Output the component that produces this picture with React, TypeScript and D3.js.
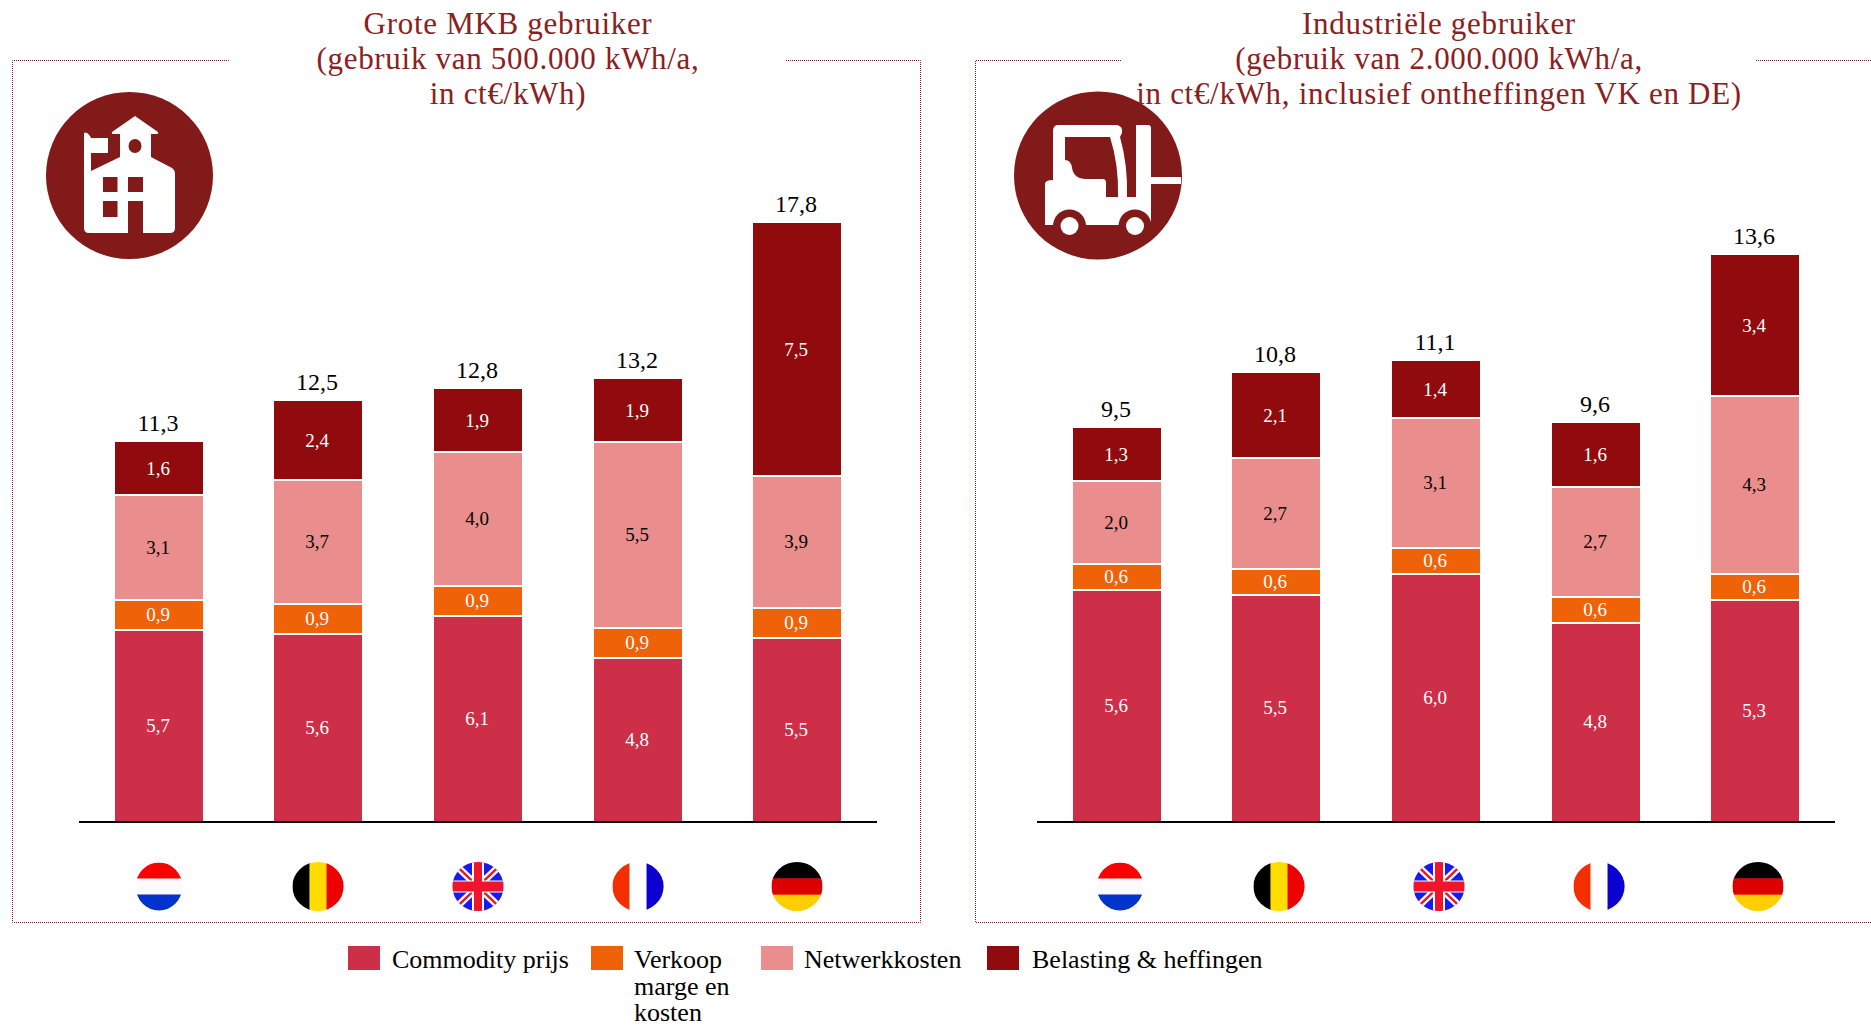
import React from "react";
import * as d3 from "d3";

const countries = ["NL", "BE", "UK", "FR", "DE"];
const seriesKeys = ["commodity", "verkoop", "netwerk", "belasting"];
const seriesNames = ["Commodity prijs", "Verkoop|marge en|kosten", "Netwerkkosten", "Belasting & heffingen"];
const colors = ["#CC2F47", "#F06208", "#EA8D8D", "#900A0E"];
const labelColors = ["#fff", "#fff", "#000", "#fff"];

// Grote MKB gebruiker, segment heights (labels round to 1 decimal)
const mkbCommodity = [5.68, 5.57, 6.1, 4.84, 5.46];
const mkbVerkoop = [0.89, 0.89, 0.89, 0.89, 0.89];
const mkbNetwerk = [3.14, 3.69, 3.99, 5.54, 3.93];
const mkbBelasting = [1.58, 2.36, 1.88, 1.88, 7.53];
const mkbTotals = [11.3, 12.5, 12.8, 13.2, 17.8];

// Industriele gebruiker
const indCommodity = [5.57, 5.45, 5.95, 4.76, 5.33];
const indVerkoop = [0.63, 0.63, 0.63, 0.63, 0.63];
const indNetwerk = [2.0, 2.66, 3.13, 2.66, 4.29];
const indBelasting = [1.26, 2.06, 1.37, 1.55, 3.4];
const indTotals = [9.5, 10.8, 11.1, 9.6, 13.6];

const mkbTitle = ["Grote MKB gebruiker", "(gebruik van 500.000 kWh/a,", "in ct€/kWh)"];
const indTitle = ["Industriële gebruiker", "(gebruik van 2.000.000 kWh/a,", "in ct€/kWh, inclusief ontheffingen VK en DE)"];

const FONT = "'Liberation Serif', serif";
const DARK = "#821A19";
const baseY = 821;
const comma = (v: number) => v.toFixed(1).replace(".", ",");

const toRows = (a: number[], b: number[], c: number[], d: number[]) =>
  countries.map((k, i) => ({ country: k, commodity: a[i], verkoop: b[i], netwerk: c[i], belasting: d[i] }));

const Flag = ({ code, cx, cy }: any) => {
  const id = `flag-${code}-${Math.round(cx)}`;
  const rx = code === "NL" ? 23.3 : 25.6;
  const ry = code === "NL" ? 24 : 24.5;
  const x0 = cx - rx, y0 = cy - ry, w = 2 * rx, h = 2 * ry;
  let body: any = null;
  if (code === "NL" || code === "DE") {
    const c = code === "NL" ? ["#FF0000", "#FDF9FC", "#0032CC"] : ["#000000", "#DD0000", "#FFCE00"];
    body = c.map((f, i) => <rect key={f} x={x0} y={y0 + (i * h) / 3} width={w} height={h / 3 + 0.5} fill={f} />);
  } else if (code === "BE" || code === "FR") {
    const c = code === "BE" ? ["#000000", "#FFDD00", "#EE0000"] : ["#F52E00", "#FFFFFF", "#0B00D1"];
    body = c.map((f, i) => <rect key={f} x={x0 + (i * w) / 3} y={y0} width={w / 3 + 0.5} height={h} fill={f} />);
  } else {
    const diag = `M${x0},${y0}L${x0 + w},${y0 + h}M${x0 + w},${y0}L${x0},${y0 + h}`;
    body = (
      <g>
        <rect x={x0} y={y0} width={w} height={h} fill="#1A1AF0" />
        <path d={diag} stroke="#fff" strokeWidth={7} />
        <path d={diag} stroke="#F0142D" strokeWidth={2.5} />
        <path d={`M${cx},${y0}V${y0 + h}M${x0},${cy}H${x0 + w}`} stroke="#fff" strokeWidth={12} />
        <path d={`M${cx},${y0}V${y0 + h}`} stroke="#F0142D" strokeWidth={8} />
        <path d={`M${x0},${cy}H${x0 + w}`} stroke="#F0142D" strokeWidth={10} />
      </g>
    );
  }
  return (
    <g>
      <clipPath id={id}><ellipse cx={cx} cy={cy} rx={rx} ry={ry} /></clipPath>
      <g clipPath={`url(#${id})`}>{body}</g>
    </g>
  );
};

const HouseIcon = () => (
  <g>
    <circle cx={129.5} cy={175.5} r={83.5} fill={DARK} />
    <path
      fill="#fff"
      d="M135,116 L158,132 Q159,134 156,134 L151,134 L151,157 L172,168 Q175,170 175,174 L175,228 Q175,233 170,233 L143,233 L143,201 L128,201 L128,233 L89,233 Q84,233 84,228 L84,133 Q87,131 90,136 L91,138 L108,138 L108,153 L91,153 L91,171 L120,157 L120,134 L114,134 Q111,134 112,132 Z"
    />
    <ellipse cx={135} cy={146} rx={6.5} ry={7} fill={DARK} />
    <rect x={103} y={177} width={14.5} height={15} fill={DARK} />
    <rect x={128} y={177} width={15} height={15} fill={DARK} />
    <rect x={103} y={201} width={14.5} height={16} fill={DARK} />
  </g>
);

const ForkliftIcon = () => (
  <g>
    <circle cx={1098} cy={175.5} r={84} fill={DARK} />
    <path
      fill="#fff"
      d="M1057,125 L1117,125 Q1123,126 1122,133 L1120,137 Q1128,165 1127,197 L1118,197 Q1119,165 1110,137 L1065,137 L1065,160 Q1071,160 1072,168 Q1074,179 1086,179 L1103,179 Q1106,179 1106,183 L1106,197 L1136,197 L1136,125 L1148,125 Q1151,125 1151,128 L1151,177 L1181,177 L1181,184 L1151,184 L1151,225 L1045,225 L1045,184 Q1045,180 1053,180 L1053,131 Q1053,126 1057,125 Z"
    />
    <circle cx={1069.5} cy={226} r={16.5} fill={DARK} />
    <circle cx={1135} cy={226} r={16.5} fill={DARK} />
    <ellipse cx={1069.5} cy={226} rx={9} ry={9} fill="#fff" />
    <ellipse cx={1135} cy={226} rx={9} ry={9} fill="#fff" />
  </g>
);

const Panel = ({ rows, totals, left, right, unit, flagOffset }: any) => {
  const x = d3.scaleBand().domain(countries).range([left, right]).paddingInner(0.449).paddingOuter(0.225);
  const y = d3.scaleLinear().domain([0, 20]).range([baseY, baseY - unit * 20]);
  const stacked = d3.stack<any>().keys(seriesKeys)(rows);
  const center = (c: string) => Math.round(x(c) as number) + 44;
  return (
    <g>
      {stacked.map((s, si) => (
        <g key={s.key}>
          {s.map((d: any, i: number) => {
            const top = Math.round(y(d[1]));
            const bottom = Math.round(y(d[0]));
            const bx = Math.round(x(countries[i]) as number);
            const y0 = top + (si === 3 ? 0 : 1);
            const y1 = bottom - (si === 0 ? 0 : 1);
            return (
              <g key={countries[i]}>
                <rect x={bx} y={y0} width={88} height={y1 - y0} fill={colors[si]} />
                <text x={center(countries[i]) - 1} y={(top + bottom) / 2 + 6} textAnchor="middle" fontSize={19} fill={labelColors[si]}>
                  {comma(rows[i][s.key])}
                </text>
              </g>
            );
          })}
        </g>
      ))}
      {countries.map((c, i) => {
        const top = Math.round(y(stacked[3][i][1]));
        return (
          <g key={c}>
            <text x={center(c) - 1} y={top - 11} textAnchor="middle" fontSize={24} fill="#000">
              {comma(totals[i])}
            </text>
            <Flag code={c} cx={center(c) + flagOffset} cy={886.5} />
          </g>
        );
      })}
      <line x1={left} x2={right} y1={baseY + 1} y2={baseY + 1} stroke="#000" strokeWidth={2} />
    </g>
  );
};

const Title = ({ lines, cx }: any) => (
  <text textAnchor="middle" fontSize={31} letterSpacing={0.7} fill="#8B2020">
    {lines.map((l: string, i: number) => (
      <tspan key={l} x={cx} y={34 + i * 35}>{l}</tspan>
    ))}
  </text>
);

const frame = { fill: "none", stroke: "#8B1A1A", strokeWidth: 1, strokeDasharray: "1 1" };
const legendX = [348, 591, 761, 987];
const legendTextX = [392, 634, 804, 1032];

export default function App() {
  return (
    <svg width={1871} height={1027} style={{ position: "absolute", left: 0, top: 0, background: "#fff" }} fontFamily={FONT}>
      <path {...frame} d="M229,60.5 H12.5 V922.5 H920.5 V60.5 H786" />
      <path {...frame} d="M1121,60.5 H975.5 V922.5 H1871 M1756,60.5 H1871" />

      <Title lines={mkbTitle} cx={508} />
      <Title lines={indTitle} cx={1439} />

      <HouseIcon />
      <ForkliftIcon />

      <Panel rows={toRows(mkbCommodity, mkbVerkoop, mkbNetwerk, mkbBelasting)} totals={mkbTotals} left={79} right={877} unit={33.6} flagOffset={0} />
      <Panel rows={toRows(indCommodity, indVerkoop, indNetwerk, indBelasting)} totals={indTotals} left={1037} right={1835} unit={41.5} flagOffset={3} />

      {seriesNames.map((name, i) => (
        <g key={name}>
          <rect x={legendX[i]} y={946} width={32} height={24} fill={colors[i]} />
          <text fontSize={26} fill="#000">
            {name.split("|").map((l, j) => (
              <tspan key={l} x={legendTextX[i]} y={968 + j * 26.5}>{l}</tspan>
            ))}
          </text>
        </g>
      ))}
    </svg>
  );
}
